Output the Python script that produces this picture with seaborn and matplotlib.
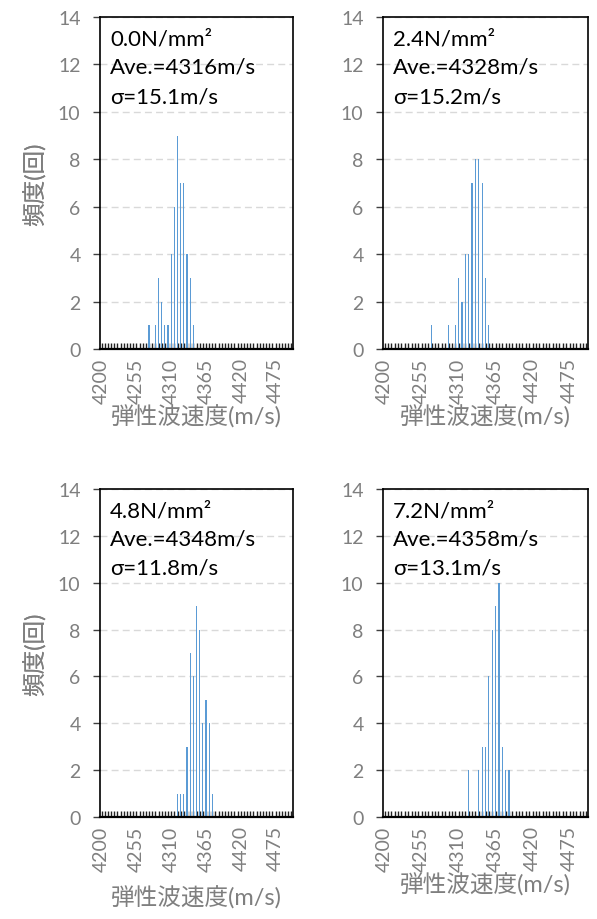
import numpy as np
import pandas as pd
import matplotlib
matplotlib.use("Agg")
import matplotlib.pyplot as plt
import seaborn as sns

# velocity classes (m/s), one bar per class
categories = list(range(4200, 4505, 5))
tick_labels = ["4200", "4255", "4310", "4365", "4420", "4475"]

# 0.0 N/mm2
bins_00 = [4275, 4285, 4290, 4295, 4300, 4305, 4310, 4315, 4320, 4325, 4330, 4335, 4340, 4345]
counts_00 = [1, 1, 3, 2, 1, 1, 4, 6, 9, 7, 7, 4, 3, 1]
# 2.4 N/mm2
bins_24 = [4270, 4295, 4305, 4310, 4315, 4320, 4325, 4330, 4335, 4340, 4345, 4350, 4355]
counts_24 = [1, 1, 1, 3, 2, 4, 4, 7, 8, 8, 7, 3, 1]
# 4.8 N/mm2
bins_48 = [4320, 4325, 4330, 4335, 4340, 4345, 4350, 4355, 4360, 4365, 4370, 4375]
counts_48 = [1, 1, 1, 3, 7, 6, 9, 8, 4, 5, 4, 1]
# 7.2 N/mm2
bins_72 = [4325, 4340, 4345, 4350, 4355, 4360, 4365, 4370, 4375, 4380, 4385]
counts_72 = [2, 2, 3, 3, 6, 8, 9, 10, 3, 2, 2]

titles = [
    ["0.0N/mm²", "Ave.=4316m/s", "σ=15.1m/s"],
    ["2.4N/mm²", "Ave.=4328m/s", "σ=15.2m/s"],
    ["4.8N/mm²", "Ave.=4348m/s", "σ=11.8m/s"],
    ["7.2N/mm²", "Ave.=4358m/s", "σ=13.1m/s"],
]
panels = [(bins_00, counts_00), (bins_24, counts_24), (bins_48, counts_48), (bins_72, counts_72)]

sns.set_theme(style="white")
plt.rcParams["font.family"] = ["Lato", "Noto Sans CJK JP", "DejaVu Sans"]

W, H = 597, 920
fig = plt.figure(figsize=(W / 100, H / 100), dpi=100)

# axes boxes in pixels: left, top, right, bottom
boxes = [(100, 18, 293, 350), (383, 18, 588, 350), (100, 490, 293, 818), (383, 490, 588, 818)]
xlabel_top = [405, 405, 886, 873]  # top edge of the x label text

gray = "#7f7f7f"
fs_tick = 14
fs_box = 16
fs_lab = 17

for i, ((bins, counts), box) in enumerate(zip(panels, boxes)):
    l, t, r, b = box
    ax = fig.add_axes([l / W, 1 - b / H, (r - l) / W, (b - t) / H])
    lookup = dict(zip(bins, counts))
    df = pd.DataFrame({
        "v": [str(c) for c in categories],
        "n": [lookup.get(c, 0) for c in categories],
    })
    sns.barplot(data=df, x="v", y="n", order=df["v"], color="#5B9BD5",
                width=0.35, linewidth=0, errorbar=None, ax=ax, saturation=1)
    ax.set_xlim(-0.5, len(categories) - 0.5)
    ax.set_ylim(0, 14)
    ax.set_yticks(range(0, 15, 2))
    ax.yaxis.grid(True, color="#d9d9d9", linestyle=(0, (5, 3)), linewidth=1)
    ax.set_axisbelow(True)
    for s in ax.spines.values():
        s.set_color("black")
        s.set_linewidth(1.2)
    ax.spines["bottom"].set_linewidth(1.6)

    ax.set_xticks(range(len(categories)))
    labs = [str(c) if str(c) in tick_labels else "" for c in categories]
    ax.set_xticklabels(labs, rotation=90)
    ax.tick_params(axis="x", direction="in", length=4.5, width=1, color="#222222",
                   pad=6, labelsize=fs_tick, labelcolor=gray, bottom=True)
    ax.tick_params(axis="y", direction="out", length=5, width=1, color="#404040",
                   pad=9, labelsize=fs_tick, labelcolor=gray, left=True)

    ax.set_xlabel("弾性波速度(m/s)", fontsize=fs_lab, color=gray)
    ax.set_ylabel("頻度(回)", fontsize=fs_lab, color=gray)
    ax.xaxis.set_label_coords(0.5, (b - xlabel_top[i]) / (b - t))
    ax.yaxis.set_label_coords((47 - l) / (r - l), 0.5)

    for j, line in enumerate(titles[i]):
        y_px = t + 21 + 29 * j
        ax.text(10 / (r - l), 1 - (y_px - t) / (b - t), line, transform=ax.transAxes,
                ha="left", va="center", fontsize=fs_box, color="black")

fig.savefig("out.png", dpi=100)
